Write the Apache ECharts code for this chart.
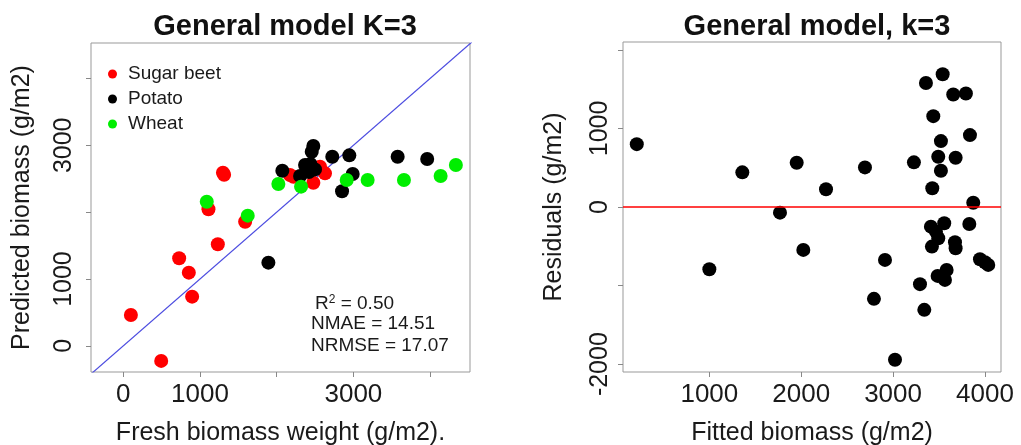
<!DOCTYPE html>
<html>
<head>
<meta charset="utf-8">
<title>General model K=3</title>
<script src="https://cdn.jsdelivr.net/npm/echarts@6/dist/echarts.min.js"></script>
<style>
html,body{margin:0;padding:0;background:#fff;}
#main{width:1021px;height:445px;}
</style>
</head>
<body>
<div id="main"></div>
<script>
// left plot: [fresh biomass weight, predicted biomass]
var sugarBeet = [[100,463],[495,-224],[729,1310],[855,1096],[898,737],[1111,2043],[1233,1520],[1300,2590],[1315,2560],[1589,1858],[2174,2556],[2220,2530],[2478,2441],[2565,2680],[2630,2581]];
var potato = [[1892,1245],[2074,2620],[2305,2541],[2370,2705],[2440,2720],[2420,2600],[2500,2640],[2457,2904],[2478,2990],[2725,2830],[2947,2850],[2991,2571],[2852,2312],[3577,2830],[3962,2795]];
var wheat = [[1089,2157],[1623,1948],[2022,2421],[2318,2382],[2913,2481],[3186,2481],[3659,2481],[4137,2541],[4336,2705]];
var oneToOne = [[-500,-500],[5000,5000]];

// right plot: [fitted biomass, residual]
var residuals = [[210,800],[1000,-792],[1359,441],[1769,-72],[1951,563],[2023,-546],[2270,225],[2694,504],[2792,-1169],[2912,-673],
  [3021,-1944],[3227,568],[3293,-982],[3340,-1309],[3358,1579],[3438,1156],[3427,238],[3412,-250],[3467,-314],[3423,-504],
  [3492,-398],[3492,639],[3540,1690],[3521,839],[3521,461],[3557,-207],[3485,-877],[3565,-928],[3583,-801],[3655,1432],
  [3674,-449],[3681,-525],[3681,627],[3793,1445],[3837,915],[3830,-216],[3873,55],[3946,-665],[4000,-703],[4036,-737]];

// ticks and labels
var leftXTicks = [0,1000,2000,3000,4000];
var leftXLabels = [0,1000,3000];
var leftYTicks = [0,1000,2000,3000,4000];
var leftYLabels = [0,1000,3000];
var rightXTicks = [1000,2000,3000,4000];
var rightXLabels = [1000,2000,3000,4000];
var rightYTicks = [-2000,-1000,0,1000,2000];
var rightYLabels = [-2000,0,1000];

var stats = ['{n|R}{s|2}{n| = 0.50}', 'NMAE = 14.51', 'NRMSE = 17.07'];

var FONT = '"Liberation Sans", Arial, sans-serif';
var TXT = '#1a1a1a';

function plain(v) { return String(v); }

function xAxis(idx, min, max, ticks, labels, name) {
  return {
    type: 'value', gridIndex: idx, min: min, max: max,
    name: name, nameLocation: 'middle', nameGap: 49,
    nameTextStyle: {fontSize: 25, color: TXT, fontFamily: FONT},
    axisLine: {show: false, onZero: false},
    splitLine: {show: false},
    axisTick: {show: true, length: 5, customValues: ticks, lineStyle: {color: '#888'}},
    axisLabel: {customValues: labels, formatter: plain, fontSize: 26, color: TXT, fontFamily: FONT, margin: 10}
  };
}
function yAxis(idx, min, max, ticks, labels, name, margin) {
  return {
    type: 'value', gridIndex: idx, min: min, max: max,
    name: name, nameLocation: 'middle', nameGap: 56,
    nameTextStyle: {fontSize: 25, color: TXT, fontFamily: FONT},
    axisLine: {show: false, onZero: false},
    splitLine: {show: false},
    axisTick: {show: true, length: 5, customValues: ticks, lineStyle: {color: '#888'}},
    axisLabel: {customValues: labels, formatter: plain, rotate: 90, fontSize: 25, color: TXT, fontFamily: FONT, margin: margin}
  };
}

var myChart = echarts.init(document.getElementById('main'));

var option = {
  animation: false,
  backgroundColor: '#fff',
  title: [
    {text: 'General model K=3', left: 280, top: 7, textAlign: 'center',
     textStyle: {fontSize: 29, fontWeight: 'bold', color: '#111', fontFamily: FONT}},
    {text: 'General model, k=3', left: 812, top: 7, textAlign: 'center',
     textStyle: {fontSize: 29, fontWeight: 'bold', color: '#111', fontFamily: FONT}}
  ],
  legend: {
    data: ['Sugar beet', 'Potato', 'Wheat'],
    orient: 'vertical', left: 103, top: 59,
    icon: 'circle', itemWidth: 9, itemHeight: 9, itemGap: 5,
    textStyle: {fontSize: 19, lineHeight: 20, color: TXT, fontFamily: FONT, padding: [0, 0, 0, 6]}
  },
  grid: [
    {left: 91, top: 43, width: 379, height: 329, outerBoundsMode: 'none', containLabel: false,
     show: true, borderColor: '#999', borderWidth: 1},
    {left: 623, top: 42, width: 378, height: 330, outerBoundsMode: 'none', containLabel: false,
     show: true, borderColor: '#999', borderWidth: 1}
  ],
  xAxis: [
    xAxis(0, -420, 4520, leftXTicks, leftXLabels, 'Fresh biomass weight (g/m2).'),
    xAxis(1, 60, 4175, rightXTicks, rightXLabels, 'Fitted biomass (g/m2)')
  ],
  yAxis: [
    yAxis(0, -390, 4530, leftYTicks, leftYLabels, 'Predicted biomass (g/m2)', 14),
    yAxis(1, -2100, 2100, rightYTicks, rightYLabels, 'Residuals (g/m2)', 10)
  ],
  graphic: [
    {type: 'text', x: 315, y: 294, style: {text: stats[0], fill: TXT,
      rich: {n: {fontSize: 19, fontFamily: FONT, fill: TXT}, s: {fontSize: 12, fontFamily: FONT, fill: TXT, verticalAlign: 'top'}}}},
    {type: 'text', x: 311, y: 314, style: {text: stats[1], fontSize: 19, fontFamily: FONT, fill: TXT}},
    {type: 'text', x: 311, y: 336, style: {text: stats[2], fontSize: 19, fontFamily: FONT, fill: TXT}}
  ],
  series: [
    {name: '1:1', type: 'line', xAxisIndex: 0, yAxisIndex: 0, data: oneToOne, symbol: 'none', clip: true,
     lineStyle: {color: '#4d4de0', width: 1.2}, z: 1},
    {name: 'Sugar beet', type: 'scatter', xAxisIndex: 0, yAxisIndex: 0, data: sugarBeet,
     symbolSize: 14, itemStyle: {color: '#ff0000', opacity: 1}, z: 2},
    {name: 'Potato', type: 'scatter', xAxisIndex: 0, yAxisIndex: 0, data: potato,
     symbolSize: 14, itemStyle: {color: '#000000', opacity: 1}, z: 3},
    {name: 'Wheat', type: 'scatter', xAxisIndex: 0, yAxisIndex: 0, data: wheat,
     symbolSize: 14, itemStyle: {color: '#00ee00', opacity: 1}, z: 4},
    {name: 'Residuals', type: 'scatter', xAxisIndex: 1, yAxisIndex: 1, data: residuals,
     symbolSize: 14, itemStyle: {color: '#000000', opacity: 1}, z: 3,
     markLine: {silent: true, symbol: 'none', label: {show: false},
       lineStyle: {color: '#ff0000', width: 1.5, type: 'solid'}, data: [{yAxis: 0}]}}
  ]
};

myChart.setOption(option);
window.onresize = myChart.resize;
</script>
</body>
</html>
